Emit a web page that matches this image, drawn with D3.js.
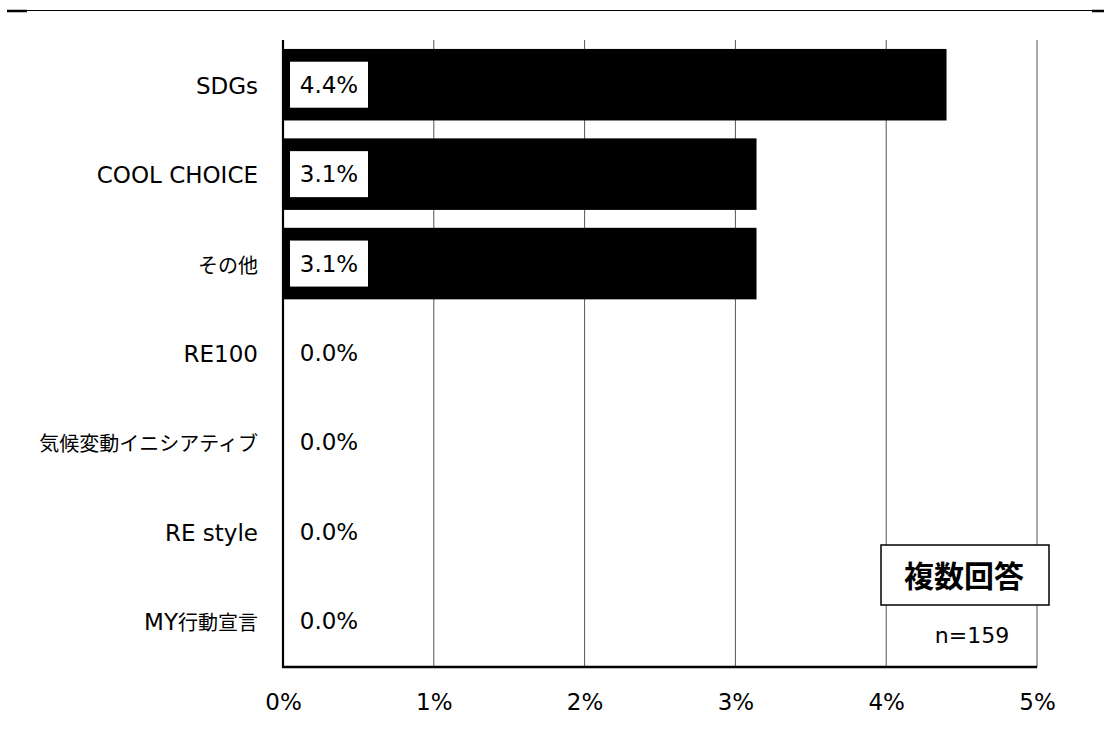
<!DOCTYPE html>
<html>
<head>
<meta charset="utf-8">
<script src="https://cdn.jsdelivr.net/npm/d3@7"></script>
<style>
  body { margin: 0; background: #fff; }
  text { font-family: "DejaVu Sans", "Noto Sans CJK JP", sans-serif; fill: #000; }
</style>
</head>
<body>
<div id="chart"></div>
<script>
// values (share of n=159, %)
var categories = ["SDGs", "COOL CHOICE", "その他", "RE100", "気候変動イニシアティブ", "RE style", "MY行動宣言"];
var values = [4.40, 3.14, 3.14, 0, 0, 0, 0];
var tickValues = [0, 1, 2, 3, 4, 5];

var width = 1104,
  height = 729;

var svg = d3.select("#chart").append("svg")
  .attr("width", width)
  .attr("height", height);

var x = d3.scaleLinear()
  .domain([0, 5])
  .range([283, 1037]);

var y = d3.scaleBand()
  .domain(categories)
  .range([40, 666])
  .paddingInner(0.2)
  .paddingOuter(0.1);

var fmt = d3.format(".1f");

// top rule
svg.append("line")
  .attr("x1", 7).attr("x2", width)
  .attr("y1", 10.5).attr("y2", 10.5)
  .style("stroke", "black")
  .style("stroke-width", 1.2);
svg.append("line")
  .attr("x1", 7).attr("x2", 27)
  .attr("y1", 11).attr("y2", 11)
  .style("stroke", "black")
  .style("stroke-width", 2.5);
svg.append("line")
  .attr("x1", 1092).attr("x2", width)
  .attr("y1", 11).attr("y2", 11)
  .style("stroke", "black")
  .style("stroke-width", 2.5);

// vertical gridlines
svg.selectAll(".grid")
  .data(tickValues.slice(1))
  .enter().append("line")
  .attr("class", "grid")
  .attr("x1", d => x(d)).attr("x2", d => x(d))
  .attr("y1", 40).attr("y2", 667)
  .style("stroke", "#555")
  .style("stroke-width", 1);

// bars
svg.selectAll(".bar")
  .data(values)
  .enter().append("rect")
  .attr("class", "bar")
  .attr("x", x(0))
  .attr("y", (d, i) => y(categories[i]))
  .attr("width", d => x(d) - x(0))
  .attr("height", y.bandwidth())
  .style("fill", "black");

// axes lines
svg.append("line")
  .attr("x1", x(0)).attr("x2", x(0))
  .attr("y1", 40).attr("y2", 668)
  .style("stroke", "black")
  .style("stroke-width", 2.2);

svg.append("line")
  .attr("x1", x(0) - 1).attr("x2", x(5))
  .attr("y1", 667).attr("y2", 667)
  .style("stroke", "black")
  .style("stroke-width", 2.5);

// data labels
var labels = svg.selectAll(".lab")
  .data(values)
  .enter().append("g")
  .attr("class", "lab")
  .attr("transform", (d, i) => "translate(" + (x(0) + 7) + "," + (y(categories[i]) + y.bandwidth() / 2) + ")");

labels.filter(d => d > 0).append("rect")
  .attr("x", 0)
  .attr("y", -23)
  .attr("width", 78)
  .attr("height", 46)
  .style("fill", "white");

labels.append("text")
  .attr("x", 39)
  .attr("y", 8)
  .attr("text-anchor", "middle")
  .style("font-size", "23px")
  .text(d => fmt(d) + "%");

// category labels: latin runs a bit larger than the japanese ones
var cjk = /([\u3000-\u30ff\u4e00-\u9fff\uff00-\uffef]+)/;

var cats = svg.selectAll(".cat")
  .data(categories)
  .enter().append("text")
  .attr("class", "cat")
  .attr("x", 258)
  .attr("y", d => y(d) + y.bandwidth() / 2 + 9)
  .attr("text-anchor", "end");

cats.each(function(d) {
  var t = d3.select(this);
  d.split(cjk).filter(s => s.length).forEach(function(part) {
    var isCjk = cjk.test(part);
    t.append("tspan")
      .style("font-size", isCjk ? "20px" : "23px")
      .style("font-family", isCjk ? "'Noto Sans CJK JP', sans-serif" : "'DejaVu Sans', sans-serif")
      .text(part);
  });
});

// x axis tick labels
var xAxis = d3.axisBottom(x)
  .tickValues(tickValues)
  .tickSize(0)
  .tickPadding(27)
  .tickFormat(d => d + "%");

var gx = svg.append("g")
  .attr("transform", "translate(0,667)")
  .call(xAxis);
gx.select(".domain").remove();
gx.selectAll("text")
  .style("font-size", "23px")
  .style("font-family", "'DejaVu Sans', sans-serif")
  .attr("fill", "black");

// 複数回答 box
svg.append("rect")
  .attr("x", 881)
  .attr("y", 545)
  .attr("width", 168)
  .attr("height", 60)
  .style("fill", "white")
  .style("stroke", "black")
  .style("stroke-width", 1.5);

svg.append("text")
  .text("複数回答")
  .attr("x", 964)
  .attr("y", 587)
  .attr("text-anchor", "middle")
  .style("font-family", "'Noto Sans CJK JP', sans-serif")
  .style("font-weight", "bold")
  .style("font-size", "30px");

svg.append("text")
  .text("n=159")
  .attr("x", 972)
  .attr("y", 643)
  .attr("text-anchor", "middle")
  .style("font-size", "22px");
</script>
</body>
</html>
